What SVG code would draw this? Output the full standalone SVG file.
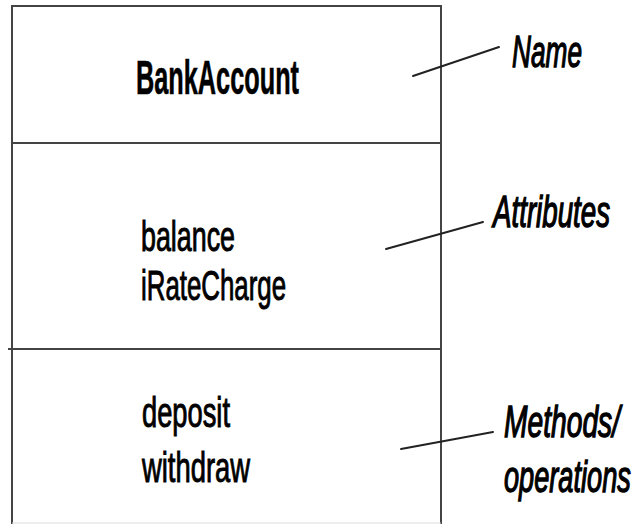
<svg xmlns="http://www.w3.org/2000/svg" width="636" height="524" viewBox="0 0 636 524">
  <style>
    .sep { stroke: #444; stroke-width: 2; }
    .leader { stroke: #222; stroke-width: 2; stroke-linecap: round; }
    .title { font-family: "Liberation Sans", Arial, sans-serif; font-weight: bold; font-size: 48px; fill: #000; stroke: #000; stroke-width: 0.6; }
    .member { font-family: "Liberation Sans", Arial, sans-serif; font-size: 43px; fill: #000; stroke: #000; stroke-width: 1; }
    .note { font-family: "Liberation Sans", Arial, sans-serif; font-style: italic; font-size: 45px; fill: #000; stroke: #000; stroke-width: 1.4; }
  </style>
  <rect width="636" height="524" fill="#fff"/>

  <!-- UML class box: BankAccount -->
  <g id="class-bankaccount">
    <line class="sep" x1="12" y1="6" x2="441" y2="6"/>
    <line class="sep" x1="12" y1="5" x2="12" y2="524"/>
    <line class="sep" x1="441" y1="5" x2="441" y2="524"/>
    <line x1="12" y1="523" x2="441" y2="523" stroke="#ddd" stroke-width="1"/>
    <line class="sep" x1="12" y1="143" x2="441" y2="143"/>
    <line class="sep" x1="8" y1="349" x2="441" y2="349"/>

    <!-- condensed lettering: each text is scaled horizontally from its left edge -->
    <g id="name-compartment">
      <text class="title" transform="matrix(0.527 0 0 1 136 94)">BankAccount</text>
    </g>
    <g id="attribute-compartment">
      <text class="member" transform="matrix(0.624 0 0 1 141 251)">balance</text>
      <text class="member" transform="matrix(0.601 0 0 1 141 300)">iRateCharge</text>
    </g>
    <g id="method-compartment">
      <text class="member" transform="matrix(0.635 0 0 1 142 427)">deposit</text>
      <text class="member" transform="matrix(0.637 0 0 1 142 482)">withdraw</text>
    </g>
  </g>

  <!-- Callout labels -->
  <g id="label-name">
    <text class="note" transform="matrix(0.583 0 0 1 512 67)">Name</text>
  </g>
  <g id="label-attributes">
    <text class="note" transform="matrix(0.616 0 0 1 493 227)">Attributes</text>
  </g>
  <g id="label-methods">
    <text class="note" transform="matrix(0.627 0 0 1 504 437)">Methods/</text>
    <text class="note" transform="matrix(0.604 0 0 1 504 492)">operations</text>
  </g>

  <!-- Leader lines from labels to compartments -->
  <g id="connectors">
    <line class="leader" x1="413" y1="76" x2="499" y2="47"/>
    <line class="leader" x1="386" y1="249" x2="483" y2="222"/>
    <line class="leader" x1="401" y1="449" x2="493" y2="432"/>
  </g>
</svg>
